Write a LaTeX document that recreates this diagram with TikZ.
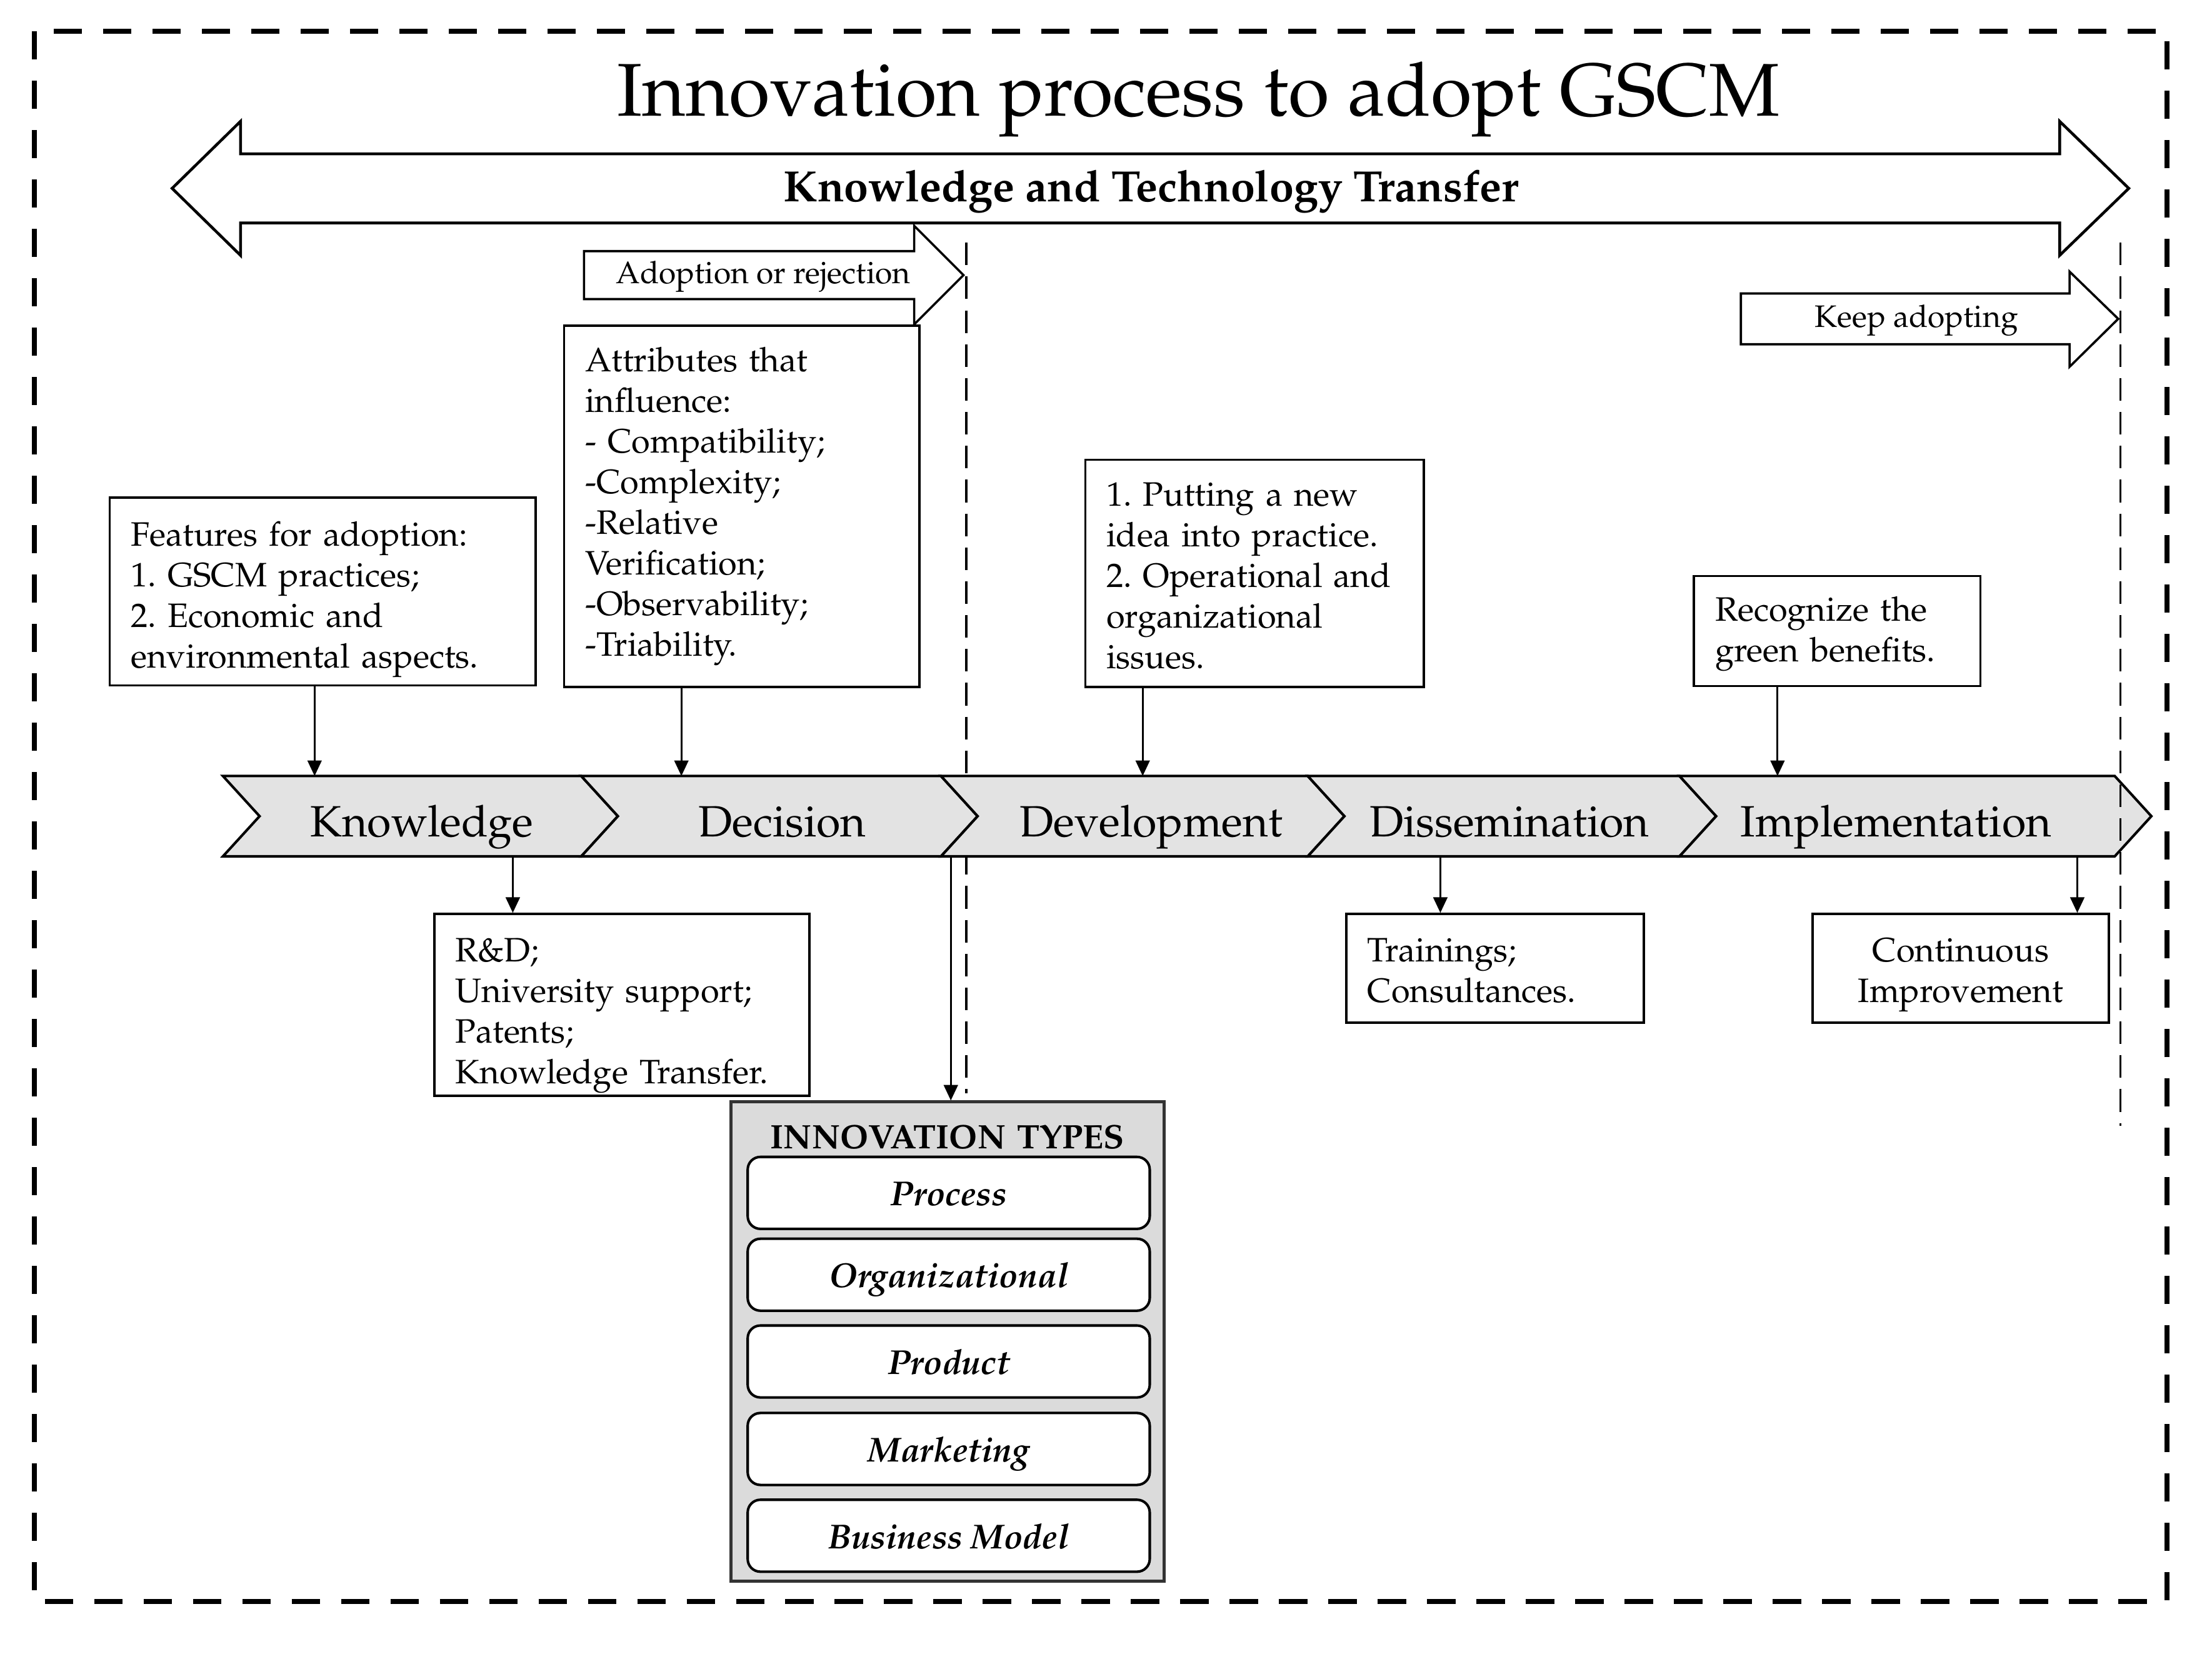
\documentclass[tikz,border=0pt]{standalone}
\usepackage[T1]{fontenc}
\usepackage{mathpazo}
\usetikzlibrary{arrows.meta}
\newcommand\bodyfont{\fontsize{24}{28.8}\selectfont\frenchspacing}
\newcommand\hgt[1]{\rule{0pt}{#1pt}}
\newcommand\dpt[1]{\rule[-#1pt]{0pt}{#1pt}}
\begin{document}
\begin{tikzpicture}[x=1pt,y=-1pt,
  outerframe/.style={line width=3.5pt, dash pattern=on 20pt off 15pt},
  vdash/.style={line width=1.4pt, dash pattern=on 16pt off 8pt},
  bigarrow/.style={draw=black, fill=white, line width=2pt, line join=miter},
  txtbox/.style={draw=black, line width=1.6pt, fill=white, anchor=north west,
    inner xsep=15pt, inner ysep=0pt, align=left, font=\bodyfont},
  conn/.style={line width=1.3pt, -{Triangle[length=11pt,width=10pt]}},
  chev/.style={draw=black, fill=gray!22, line width=1.8pt, line join=miter},
  chevlabel/.style={anchor=base, inner sep=0pt, font=\fontsize{31}{31}\selectfont},
  arrowlabel/.style={anchor=base, inner sep=0pt, font=\fontsize{22}{22}\selectfont},
  innovbox/.style={draw=black!80, fill=gray!28, line width=2.2pt, anchor=north west,
    inner sep=0pt, text width=307pt, align=center,
    font=\fontsize{24}{24}\selectfont\bfseries},
  typebox/.style={draw=black, fill=white, line width=1.8pt, rounded corners=9pt,
    minimum width=285pt, minimum height=51pt, text height=20pt, text depth=2pt,
    inner sep=0pt, font=\fontsize{24.5}{24.5}\selectfont\bfseries\itshape}
]
\useasboundingbox (0,0) rectangle (1568,1172.3);
% outer frame
\draw[outerframe] (24.5,22.2) rectangle (1536,1135);

% title
\node[anchor=base, inner sep=0pt, font=\fontsize{53}{53}\selectfont] (title) at (849.5,82) {Innovation process to adopt GSCM};

% big double arrow
\draw[bigarrow] (122,133.5) -- (170.5,86) -- (170.5,109) -- (1460,109) -- (1460,86)
  -- (1509,133.5) -- (1460,181) -- (1460,158) -- (170.5,158) -- (170.5,181) -- cycle;
\node[anchor=base, inner sep=0pt, font=\fontsize{31}{31}\selectfont\bfseries] (ktt) at (816,143) {Knowledge and Technology Transfer};

% first dashed separator (behind chevrons)
\coordinate (sepAtop) at (685,172);
\coordinate (sepAbot) at (685,775);
\draw[vdash] (sepAtop) -- (sepAbot);

% adoption arrow
\draw[bigarrow, line width=1.6pt] (414,178) -- (648,178) -- (648,160) -- (683,195) -- (648,230) -- (648,212) -- (414,212) -- cycle;
\node[arrowlabel] (adopt) at (541,201) {Adoption or rejection};

% keep adopting arrow
\draw[bigarrow, line width=1.6pt] (1234,208) -- (1467,208) -- (1467,192.5) -- (1501.5,226) -- (1467,260) -- (1467,244) -- (1234,244) -- cycle;
\node[arrowlabel] (keep) at (1358.5,232) {Keep adopting};

% upper boxes
\node[txtbox, text width=272pt] (features) at (77,352)
  {\hgt{34}Features for adoption:\\1. GSCM practices;\\2. Economic and\\environmental aspects.\dpt{12.6}};
\node[txtbox, text width=222pt] (attr) at (399,230)
  {\hgt{32.7}Attributes that\\influence:\\- Compatibility;\\-Complexity;\\-Relative\\Verification;\\-Observability;\\-Triability.\dpt{21.7}};
\node[txtbox, text width=210pt] (devbox) at (768.5,325)
  {\hgt{33}1. Putting a new\\idea into practice.\\2. Operational and\\organizational\\issues.\dpt{12.8}};
\node[txtbox, text width=173pt] (recog) at (1200,407.5)
  {\hgt{32}Recognize the\\green benefits.\dpt{17.2}};

% chevrons
\foreach \a/\b in {158/412, 412/667, 667/927, 927/1190.5, 1190.5/1499}
  \draw[chev] (\a,550) -- (\b,550) -- (\b+26,578.5) -- (\b,607) -- (\a,607) -- (\a+26,578.5) -- cycle;
\node[chevlabel] (knowledge) at (299,593) {Knowledge};
\node[chevlabel] (decision) at (554.5,593) {Decision};
\node[chevlabel] (development) at (816,593) {Development};
\node[chevlabel] (dissemination) at (1070,593) {Dissemination};
\node[chevlabel] (implementation) at (1344,593) {Implementation};

% second dashed separator (over chevrons)
\coordinate (sepBtop) at (1503,172);
\coordinate (sepBbot) at (1503,798);
\draw[vdash] (sepBtop) -- (sepBbot);

% lower boxes
\node[txtbox, text width=236pt] (rd) at (307,647)
  {\hgt{34}R\&D;\\University support;\\Patents;\\Knowledge Transfer.\dpt{8.6}};
\node[txtbox, text width=181pt] (train) at (953.5,647)
  {\hgt{34}Trainings;\\Consultances.\dpt{14.2}};
\node[txtbox, text width=180pt, align=center] (cont) at (1284,647)
  {\hgt{34}Continuous\\Improvement\dpt{14.2}};

% innovation types
\node[innovbox] (innov) at (517,780) {\hgt{33}INNOVATION TYPES\dpt{306.5}};
\node[typebox] (process) at (672.5,845.5) {Process};
\node[typebox] (organizational) at (672.5,903.5) {Organizational};
\node[typebox] (product) at (672.5,965) {Product};
\node[typebox] (marketing) at (672.5,1027) {Marketing};
\node[typebox] (business) at (672.5,1088.5) {Business Model};

% connector points on the chevron row
\coordinate (kIn) at (223,550);
\coordinate (dIn) at (483,550);
\coordinate (devIn) at (810,550);
\coordinate (impIn) at (1260,550);
\coordinate (kOut) at (363.5,607);
\coordinate (decOut) at (674,607);
\coordinate (disOut) at (1021,607);
\coordinate (impOut) at (1472.5,607);

% connectors
\draw[conn] (features.south -| kIn) -- (kIn);
\draw[conn] (attr.south -| dIn) -- (dIn);
\draw[conn] (devbox.south -| devIn) -- (devIn);
\draw[conn] (recog.south -| impIn) -- (impIn);
\draw[conn] (kOut) -- (rd.north -| kOut);
\draw[conn] (disOut) -- (train.north -| disOut);
\draw[conn] (impOut) -- (cont.north -| impOut);
\draw[conn] (decOut) -- (innov.north -| decOut);
\end{tikzpicture}
\end{document}
